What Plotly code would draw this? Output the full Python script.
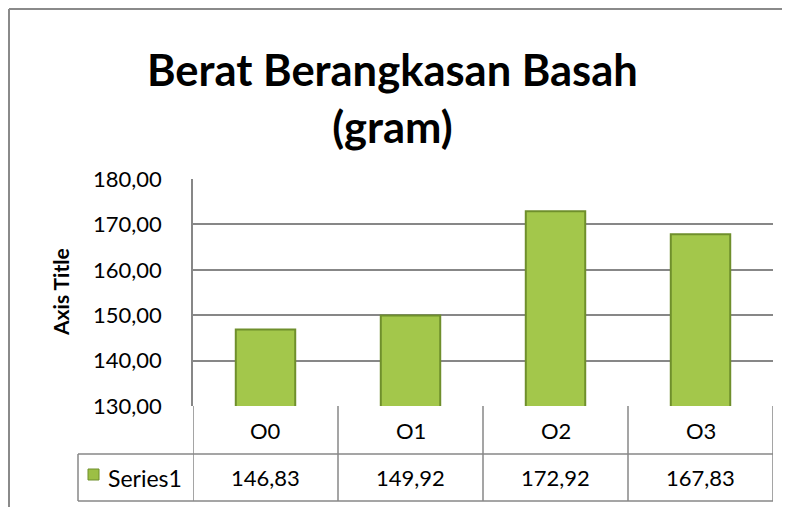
import plotly.graph_objects as go

categories = ["O0", "O1", "O2", "O3"]
values = [146.83, 149.92, 172.92, 167.83]
series_name = "Series1"
y_ticks = [130, 140, 150, 160, 170, 180]
title_text = "Berat Berangkasan Basah<br>(gram)"
axis_title = "Axis Title"

W, H = 790, 507
OFF = 8  # page body margin offset
# plot area in reference (screen) pixels
SL, SR, ST, SB = 193, 773, 179, 406
L, T = SL - OFF, ST - OFF
R, B = W - (SR - OFF), H - (SB - OFF)
PW, PH = W - L - R, H - T - B

def px(x):
    return (x - OFF - L) / PW

def py(y):
    return (SB - y) / PH

FONT = "Lato, Carlito, Calibri, sans-serif"
GRID = "#878787"

fig = go.Figure()
fig.add_trace(go.Bar(
    x=categories, y=values, width=0.41,
    marker=dict(color="#a3c74b", line=dict(color="#6f8f2c", width=2)),
    showlegend=False, hoverinfo="skip",
))

fig.update_layout(
    width=W, height=H,
    margin=dict(l=L, r=R, t=T, b=B, pad=0),
    paper_bgcolor="white", plot_bgcolor="white",
    separators=",.",
    font=dict(family=FONT, color="black", size=22),
    xaxis=dict(range=[-0.5, len(categories) - 0.5], showticklabels=False,
               showgrid=False, zeroline=False, showline=False, fixedrange=True),
    yaxis=dict(range=[y_ticks[0], y_ticks[-1]], tickvals=y_ticks, tickformat=".2f",
               showgrid=True, gridcolor=GRID, gridwidth=1.5, zeroline=False,
               showline=True, linecolor=GRID, linewidth=1.5,
               ticks="", ticklabelstandoff=25,
               tickfont=dict(size=22, family=FONT, color="black")),
)

shapes = []
line = dict(color=GRID, width=1.5)
border = dict(color="#8a8a8a", width=2)
# outer chart border (top and left)
shapes.append(dict(type="line", xref="paper", yref="paper", x0=px(9), x1=px(W + 20), y0=py(9), y1=py(9), line=border))
shapes.append(dict(type="line", xref="paper", yref="paper", x0=px(9), x1=px(9), y0=py(9), y1=py(H + 20), line=border))

row1_top, row1_bot, row2_bot = SB, 454, 501
label_left = 78
n = len(categories)
# data table lines
shapes.append(dict(type="line", xref="paper", yref="paper", x0=px(label_left), x1=1, y0=py(row1_bot), y1=py(row1_bot), line=line))
shapes.append(dict(type="line", xref="paper", yref="paper", x0=px(label_left), x1=1, y0=py(row2_bot), y1=py(row2_bot), line=line))
shapes.append(dict(type="line", xref="paper", yref="paper", x0=px(label_left), x1=px(label_left), y0=py(row1_bot), y1=py(row2_bot), line=line))
for i in range(n + 1):
    shapes.append(dict(type="line", xref="x", yref="paper", x0=i - 0.5, x1=i - 0.5,
                       y0=py(row1_top), y1=py(row2_bot), line=line))
# legend key
shapes.append(dict(type="rect", xref="paper", yref="paper", x0=px(88), x1=px(99), y0=py(469), y1=py(480),
                   fillcolor="#9cbf45", line=dict(color="#6f8f2c", width=1)))

annotations = []
for c, v in zip(categories, values):
    annotations.append(dict(x=c, xref="x", y=py((row1_top + row1_bot) / 2), yref="paper",
                            text=c, showarrow=False, font=dict(size=22, family=FONT), yanchor="middle"))
    annotations.append(dict(x=c, xref="x", y=py((row1_bot + row2_bot) / 2), yref="paper",
                            text=f"{v:.2f}".replace(".", ","), showarrow=False,
                            font=dict(size=22, family=FONT), yanchor="middle"))
annotations.append(dict(x=px(106), xref="paper", y=py((row1_bot + row2_bot) / 2), yref="paper",
                        text=series_name, showarrow=False, xanchor="left", yanchor="middle",
                        font=dict(size=23, family=FONT)))
annotations.append(dict(x=px(392), xref="paper", y=py(98), yref="paper", text=f"<b>{title_text}</b>",
                        showarrow=False, xanchor="center", yanchor="middle",
                        font=dict(size=43.5, family=FONT), align="center"))
annotations.append(dict(x=px(60), xref="paper", y=py(292), yref="paper", text=f"<b>{axis_title}</b>",
                        showarrow=False, textangle=-90, xanchor="center", yanchor="middle",
                        font=dict(size=21, family=FONT)))

fig.update_layout(shapes=shapes, annotations=annotations)
fig.write_html("out.html")
